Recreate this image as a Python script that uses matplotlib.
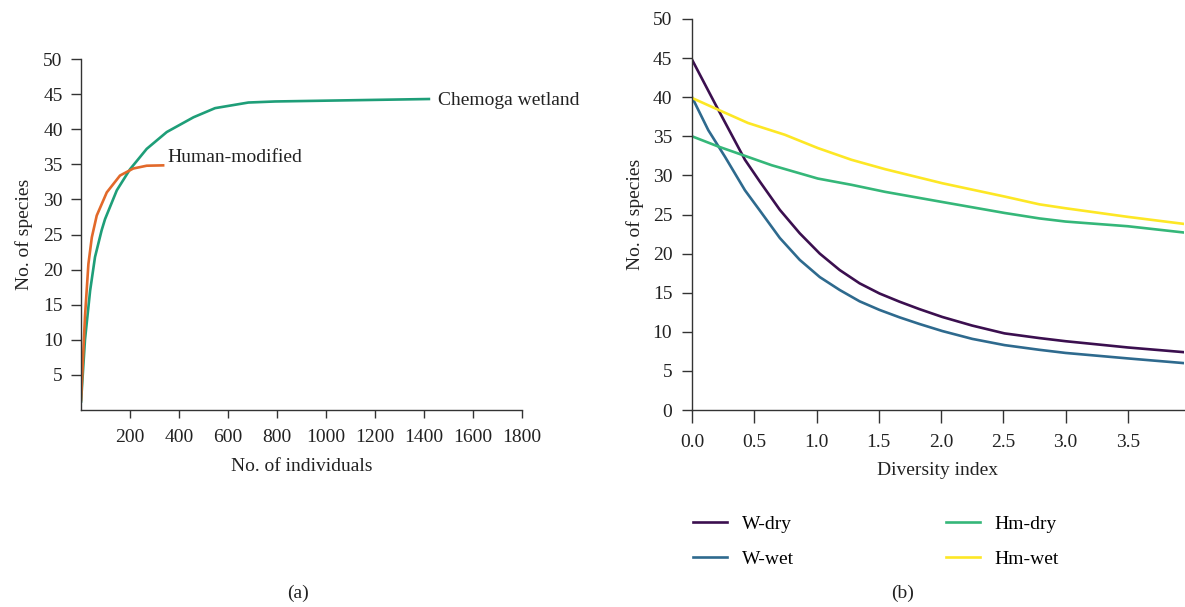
import numpy as np
import matplotlib.pyplot as plt

plt.rcParams['font.family'] = ['Liberation Serif', 'DejaVu Serif']

# (a) rarefaction curves
chem_x = [0, 16, 37, 57, 84, 98, 146, 200, 268, 350, 459, 547, 683, 792, 1420]
chem_y = [1.2, 10, 17, 21.8, 25.6, 27.2, 31.3, 34.3, 37.2, 39.6, 41.7, 43.0, 43.8, 43.95, 44.3]
hum_x = [0, 16, 30, 44, 64, 105, 159, 213, 268, 335]
hum_y = [1.4, 13.3, 20.8, 24.6, 27.7, 31.0, 33.4, 34.4, 34.8, 34.85]

# (b) diversity profiles
wdry_x = [0.0, 0.184, 0.425, 0.545, 0.705, 0.865, 1.026, 1.186, 1.346, 1.506, 1.667, 1.827,
          2.01, 2.25, 2.51, 2.79, 3.0, 3.5, 3.95]
wdry_y = [44.8, 39.2, 32.0, 29.2, 25.6, 22.6, 20.0, 17.9, 16.2, 14.9, 13.85, 12.9,
          11.9, 10.8, 9.8, 9.2, 8.8, 8.0, 7.4]
wwet_x = [0.0, 0.13, 0.264, 0.425, 0.545, 0.705, 0.865, 1.026, 1.186, 1.346, 1.506, 1.667, 1.827,
          2.01, 2.25, 2.51, 2.79, 3.0, 3.5, 3.95]
wwet_y = [40.0, 35.8, 32.4, 28.1, 25.5, 22.0, 19.2, 17.0, 15.35, 13.9, 12.8, 11.85, 11.0,
          10.1, 9.1, 8.3, 7.7, 7.3, 6.6, 6.0]
hmdry_x = [0.0, 0.21, 0.425, 0.64, 1.01, 1.28, 1.55, 2.01, 2.51, 2.79, 3.0, 3.5, 3.95]
hmdry_y = [35.0, 33.7, 32.5, 31.3, 29.6, 28.8, 27.9, 26.6, 25.2, 24.5, 24.1, 23.5, 22.7]
hmwet_x = [0.0, 0.21, 0.45, 0.745, 1.01, 1.28, 1.55, 2.01, 2.51, 2.79, 3.0, 3.5, 3.95]
hmwet_y = [39.9, 38.4, 36.7, 35.2, 33.5, 32.0, 30.8, 29.0, 27.3, 26.3, 25.8, 24.7, 23.8]

series_b = [('W-dry', wdry_x, wdry_y, '#3b0f4f'), ('W-wet', wwet_x, wwet_y, '#2e6a8e'),
            ('Hm-dry', hmdry_x, hmdry_y, '#35b779'), ('Hm-wet', hmwet_x, hmwet_y, '#fde725')]

fs = 14
txt_col = '#222222'
axis_col = '#333333'

fig = plt.figure(figsize=(11.85, 6.07), dpi=100)
ax1 = fig.add_axes([0.0684, 0.3245, 0.3721, 0.5783])
ax2 = fig.add_axes([0.584, 0.3245, 0.415, 0.6442])

for ax in (ax1, ax2):
    for s in ('top', 'right'):
        ax.spines[s].set_visible(False)
    for s in ('left', 'bottom'):
        ax.spines[s].set_color(axis_col)
        ax.spines[s].set_linewidth(1.0)
    ax.tick_params(direction='out', width=1, color=axis_col,
                   labelsize=fs, labelcolor=txt_col)

ax1.tick_params(axis='y', length=7.2, pad=6)
ax1.tick_params(axis='x', length=6, pad=8)
ax2.tick_params(axis='y', length=7.2, pad=7)
ax2.tick_params(axis='x', length=9.4, pad=7.5)

ax1.plot(chem_x, chem_y, color='#1e9e78', lw=1.9)
ax1.plot(hum_x, hum_y, color='#e2692a', lw=1.9)
ax1.text(1457, 44.1, 'Chemoga wetland', fontsize=fs, va='center', ha='left', color=txt_col)
ax1.text(351, 35.9, 'Human-modified', fontsize=fs, va='center', ha='left', color=txt_col)
ax1.set_xlim(0, 1800)
ax1.set_ylim(0, 50)
ax1.set_xticks(range(200, 1801, 200))
ax1.set_yticks(range(5, 51, 5))
ax1.set_xlabel('No. of individuals', fontsize=fs, color=txt_col, labelpad=8)
ax1.set_ylabel('No. of species', fontsize=fs, color=txt_col, labelpad=7)

lines = []
for name, xs, ys, col in series_b:
    ln, = ax2.plot(xs, ys, color=col, lw=1.9, label=name)
    lines.append(ln)
ax2.set_xlim(0, 3.95)
ax2.set_ylim(0, 50)
ticks_b = np.arange(0, 3.6, 0.5)
ax2.set_xticks(ticks_b)
ax2.set_xticklabels(['%.1f' % v for v in ticks_b])
ax2.set_yticks(range(0, 51, 5))
ax2.set_xlabel('Diversity index', fontsize=fs, color=txt_col, labelpad=8.5)
ax2.set_ylabel('No. of species', fontsize=fs, color=txt_col, labelpad=6)

leg_kw = dict(loc='upper left', frameon=False, fontsize=fs, handlelength=1.75,
              handletextpad=0.75, labelspacing=0.88, borderpad=0, borderaxespad=0)
fig.legend(lines[:2], ['W-dry', 'W-wet'], bbox_to_anchor=(693 / 1185, 0.151), **leg_kw)
fig.legend(lines[2:], ['Hm-dry', 'Hm-wet'], bbox_to_anchor=(946 / 1185, 0.151), **leg_kw)

fig.text(0.2515, 0.023, '(a)', fontsize=fs, ha='center', va='center', color=txt_col)
fig.text(0.762, 0.023, '(b)', fontsize=fs, ha='center', va='center', color=txt_col)

fig.savefig('out.png', dpi=100)
